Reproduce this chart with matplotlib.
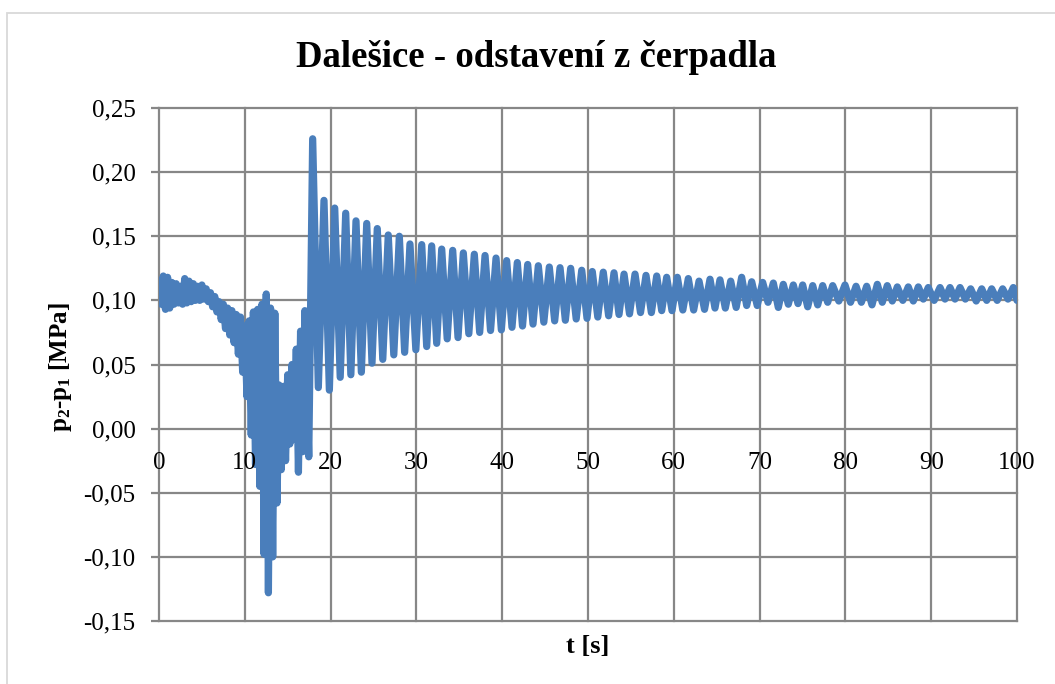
import matplotlib
matplotlib.use("Agg")
import matplotlib.pyplot as plt
from matplotlib.patches import Rectangle
from matplotlib.ticker import FuncFormatter
import numpy as np

plt.rcParams['font.family'] = ['Liberation Serif', 'DejaVu Serif']
plt.rcParams['mathtext.fontset'] = 'custom'
plt.rcParams['mathtext.rm'] = 'Liberation Serif'
plt.rcParams['mathtext.bf'] = 'Liberation Serif:bold'
plt.rcParams['mathtext.default'] = 'bf'

# time of each upper swing [s]; first part (0-17 s) is the noisy band read every 0.5 s,
# after the surge the single oscillation peaks
seg_t = [0.0, 0.5, 1.0, 1.5, 2.0, 2.5, 3.0, 3.5, 4.0, 4.5,
         5.0, 5.5, 6.0, 6.5, 7.0, 7.5, 8.0, 8.5, 9.0, 9.5,
         10.0, 10.5, 11.0, 11.5, 12.0, 12.5, 13.0, 13.5, 14.0, 14.5,
         15.0, 15.5, 16.0, 16.5, 17.0,
         17.91, 19.23, 20.48, 21.76, 22.96, 24.21, 25.44, 26.72, 28.01, 29.25,
         30.62, 31.78, 32.95, 34.23, 35.47, 36.75, 38.00, 39.28, 40.52, 41.76,
         42.97, 44.21, 45.49, 46.74, 47.98, 49.27, 50.50, 51.78, 53.03, 54.20,
         55.48, 56.76, 58.01, 59.17, 60.41, 61.69, 62.94, 64.22, 65.38, 66.63,
         67.91, 69.08, 70.36, 71.60, 72.76, 73.93, 75.02, 76.19, 77.35, 78.52,
         79.95, 81.24, 82.48, 83.72, 84.88, 86.05, 87.33, 88.50, 89.66, 91.03,
         92.19, 93.36, 94.60, 95.89, 97.05, 98.33, 99.57]

# upper value of each swing [MPa]
seg_hi = [0.115, 0.119, 0.118, 0.114, 0.113, 0.111, 0.117, 0.115, 0.113, 0.111,
          0.112, 0.109, 0.106, 0.103, 0.099, 0.097, 0.094, 0.092, 0.089, 0.087,
          0.080, 0.084, 0.091, 0.093, 0.097, 0.105, 0.094, 0.090, 0.034, 0.033,
          0.042, 0.050, 0.062, 0.076, 0.092,
          0.226, 0.178, 0.172, 0.168, 0.162, 0.160, 0.156, 0.151, 0.150, 0.144,
          0.1435, 0.1425, 0.140, 0.139, 0.137, 0.136, 0.135, 0.133, 0.131, 0.1295,
          0.128, 0.127, 0.126, 0.1255, 0.125, 0.1235, 0.1225, 0.122, 0.1215, 0.1205,
          0.1205, 0.1195, 0.119, 0.118, 0.118, 0.117, 0.115, 0.1165, 0.116, 0.115,
          0.118, 0.1145, 0.114, 0.1135, 0.1125, 0.112, 0.112, 0.1115, 0.1115, 0.1115,
          0.112, 0.111, 0.111, 0.1125, 0.1115, 0.1105, 0.1105, 0.1105, 0.110, 0.110,
          0.110, 0.110, 0.109, 0.109, 0.109, 0.109, 0.110]

# lower value that follows each upper swing [MPa]
seg_lo = [0.097, 0.093, 0.094, 0.097, 0.098, 0.097, 0.098, 0.099, 0.100, 0.100,
          0.101, 0.099, 0.095, 0.091, 0.085, 0.078, 0.073, 0.067, 0.058, 0.044,
          0.025, -0.005, -0.028, -0.045, -0.098, -0.128, -0.100, -0.058, -0.032, -0.025,
          -0.012, -0.008, -0.034, -0.018, -0.022,
          0.032, 0.030, 0.040, 0.042, 0.044, 0.051, 0.054, 0.0575, 0.0595, 0.0615,
          0.064, 0.0665, 0.070, 0.071, 0.074, 0.075, 0.0765, 0.077, 0.079, 0.080,
          0.0815, 0.083, 0.084, 0.0845, 0.0855, 0.086, 0.087, 0.088, 0.089, 0.0895,
          0.0905, 0.0905, 0.092, 0.092, 0.0925, 0.0925, 0.093, 0.094, 0.094, 0.0945,
          0.096, 0.096, 0.0985, 0.0945, 0.097, 0.0975, 0.095, 0.0965, 0.0985, 0.0995,
          0.0985, 0.0985, 0.0965, 0.0985, 0.0995, 0.100, 0.0995, 0.101, 0.100, 0.101,
          0.101, 0.101, 0.0995, 0.100, 0.100, 0.101, 0.100]

t_end = 100.0
x_ticks = [0, 10, 20, 30, 40, 50, 60, 70, 80, 90, 100]
y_ticks = [-0.15, -0.10, -0.05, 0.00, 0.05, 0.10, 0.15, 0.20, 0.25]

# join the swings into one trace: each low point sits halfway to the next high point
t_hi = np.array(seg_t)
t_lo = (t_hi + np.append(t_hi[1:], t_end)) / 2
t_lo[-1] = t_end
t = np.column_stack([t_hi, t_lo]).ravel()
p = np.column_stack([seg_hi, seg_lo]).ravel()

fig = plt.figure(figsize=(10.55, 6.84), dpi=100)
ax = fig.add_axes([159 / 1055, 1 - 621 / 684, 858 / 1055, 513 / 684])

grid_c = '#878787'
for yv in y_ticks:
    ax.axhline(yv, color=grid_c, lw=1.6, zorder=1, clip_on=False)
for xv in x_ticks:
    ax.axvline(xv, color=grid_c, lw=1.6, zorder=1, clip_on=False)

ax.plot(t, p, color='#4a7ebb', lw=5.2, solid_joinstyle='round',
        solid_capstyle='round', zorder=2)

ax.set_xlim(0, 100)
ax.set_ylim(-0.15, 0.25)
ax.set_axisbelow(False)
for s in ax.spines.values():
    s.set_color('none')
ax.spines['bottom'].set_position(('data', 0))

ax.set_xticks(x_ticks)
ax.set_yticks(y_ticks)
ax.yaxis.set_major_formatter(FuncFormatter(lambda v, pos: f"{v:.2f}".replace('.', ',')))
ax.tick_params(axis='x', length=0, pad=17, labelsize=18)
ax.tick_params(axis='y', length=6, width=1.6, color=grid_c, pad=11, labelsize=18)

fig.text(536 / 1055, 1 - 67 / 684, "Dalešice - odstavení z čerpadla",
         ha='center', va='baseline', fontsize=26.5, fontweight='bold')
fig.text(588 / 1055, 1 - 653 / 684, "t [s]", ha='center', va='baseline',
         fontsize=19, fontweight='bold')
fig.text(61 / 1055, 1 - 367 / 684, "p$_2$-p$_1$ [MPa]", rotation=90,
         ha='center', va='center', fontsize=18, fontweight='bold')

fig.add_artist(Rectangle((7 / 1055, -0.1), 1.2, 1.1 - 12.5 / 684,
                         transform=fig.transFigure, fill=False,
                         ec='#d9d9d9', lw=1.3))

fig.savefig('out.png', dpi=100)
